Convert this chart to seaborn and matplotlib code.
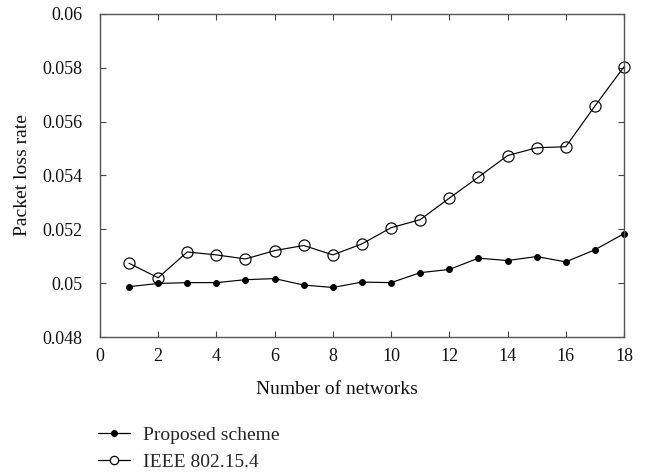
import matplotlib
matplotlib.use("Agg")
import matplotlib.pyplot as plt
import seaborn as sns
import pandas as pd
from matplotlib.lines import Line2D

networks = list(range(1, 19))
proposed = [0.04987, 0.04999, 0.05002, 0.05002, 0.05013, 0.05017, 0.04993, 0.04984, 0.05004,
            0.05002, 0.05039, 0.05051, 0.05093, 0.05084, 0.05099, 0.05079, 0.05124, 0.05184]
ieee = [0.05074, 0.05020, 0.05116, 0.05105, 0.05090, 0.05121, 0.05140, 0.05105, 0.05146,
        0.05206, 0.05236, 0.05316, 0.05394, 0.05474, 0.05503, 0.05507, 0.05658, 0.05804]
series_names = ["Proposed scheme", "IEEE 802.15.4"]
xticks = list(range(0, 19, 2))
yticks = [0.048, 0.05, 0.052, 0.054, 0.056, 0.058, 0.06]
ytick_labels = ["0.048", "0.05", "0.052", "0.054", "0.056", "0.058", "0.06"]

sns.set_theme(style="white")
plt.rcParams['font.family'] = ['Liberation Serif', 'DejaVu Serif']

fig = plt.figure(figsize=(6.53, 4.74), dpi=100)
ax = fig.add_axes([0.153, 0.289, 0.9556 - 0.153, 0.9705 - 0.289])

df1 = pd.DataFrame({"x": networks, "y": proposed})
df2 = pd.DataFrame({"x": networks, "y": ieee})
sns.lineplot(data=df1, x="x", y="y", ax=ax, color="black", lw=0.85, marker="o",
             markersize=4.2, markerfacecolor="black", markeredgecolor="black", clip_on=False)
sns.lineplot(data=df2, x="x", y="y", ax=ax, color="black", lw=0.85, marker="o",
             markersize=8, markerfacecolor="none", markeredgecolor="black",
             markeredgewidth=0.85, clip_on=False)

ax.set_xlim(0, 18)
ax.set_ylim(0.048, 0.06)
ax.set_xticks(xticks)
ax.set_xticklabels([str(t) for t in xticks])
ax.set_yticks(yticks)
ax.set_yticklabels(ytick_labels)
ax.tick_params(direction="in", length=4, width=0.8, color="#444444",
               top=True, right=True, bottom=True, left=True, labelsize=13,
               labelcolor="#111111")
ax.tick_params(axis="y", pad=12.5)
ax.tick_params(axis="x", pad=8)
for s in ax.spines.values():
    s.set_color("#555555")
    s.set_linewidth(1.0)
ax.set_xlabel("Number of networks", fontsize=14, color="#111111")
ax.xaxis.set_label_coords(0.453, -0.137)
ax.set_ylabel("Packet loss rate", fontsize=14, color="#111111")
ax.yaxis.set_label_coords(-0.132, 0.5)

handles = [
    Line2D([], [], color="black", lw=0.9, marker="o", markersize=4, markerfacecolor="black"),
    Line2D([], [], color="black", lw=0.9, marker="o", markersize=6, markerfacecolor="white",
           markeredgecolor="black", markeredgewidth=0.9),
]
fig.legend(handles, series_names, loc="upper left", bbox_to_anchor=(0.150, 0.100),
           frameon=False, fontsize=14, handlelength=1.65, handletextpad=0.67,
           labelspacing=0.45, borderaxespad=0, borderpad=0)

fig.savefig("out.png", dpi=100)
